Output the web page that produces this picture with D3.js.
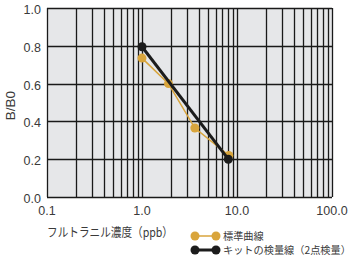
<!DOCTYPE html>
<html>
<head>
<meta charset="utf-8">
<script src="https://cdn.jsdelivr.net/npm/d3@7"></script>
<style>
body { margin: 0; background: #fff; }
text { font-family: "Noto Sans CJK JP", "Noto Sans", sans-serif; fill: #3a3a3a; }
text.num { font-family: "Liberation Sans", Arial, sans-serif; }
</style>
</head>
<body>
<div id="chart"></div>
<script>
// data
var standardX = [1.0, 1.9, 3.6, 8.2];
var standardY = [0.735, 0.60, 0.365, 0.22];
var kitX = [1.0, 8.1];
var kitY = [0.795, 0.20];
var xTicks = [0.1, 1, 10, 100];
var xTickLabels = ["0.1", "1.0", "10.0", "100.0"];
var yTicks = [0, 0.2, 0.4, 0.6, 0.8, 1.0];

var width = 353, height = 262;
var margin = {left: 47, right: 21, top: 8, bottom: 65};

var svg = d3.select("#chart").append("svg")
    .attr("width", width)
    .attr("height", height);

var x = d3.scaleLog().domain([0.1, 100]).range([margin.left, width - margin.right]);
var y = d3.scaleLinear().domain([0, 1]).range([height - margin.bottom, margin.top]);

//Plot background
svg.append("rect")
    .attr("x", x(0.1))
    .attr("y", y(1))
    .attr("width", x(100) - x(0.1))
    .attr("height", y(0) - y(1))
    .attr("fill", "#e6e7e9");

//Vertical log grid
var vlines = [];
[0.1, 1, 10].forEach(function(d) {
    for (var i = 1; i <= 9; i++) vlines.push(d * i);
});
vlines.push(100);

svg.selectAll(".vgrid")
    .data(vlines)
    .enter()
    .append("line")
    .attr("x1", d => Math.round(x(d)) + 0.5)
    .attr("x2", d => Math.round(x(d)) + 0.5)
    .attr("y1", y(1))
    .attr("y2", y(0))
    .attr("stroke", "#1a1a1a")
    .attr("stroke-width", 1.3);

svg.selectAll(".hgrid")
    .data(yTicks)
    .enter()
    .append("line")
    .attr("x1", x(0.1))
    .attr("x2", x(100))
    .attr("y1", d => Math.round(y(d)) + 0.5)
    .attr("y2", d => Math.round(y(d)) + 0.5)
    .attr("stroke", "#1a1a1a")
    .attr("stroke-width", 1.3);

//Axis labels
svg.selectAll(".ylab")
    .data(yTicks)
    .enter()
    .append("text")
    .attr("class", "num")
    .attr("x", 41)
    .attr("y", d => y(d) + 6)
    .attr("text-anchor", "end")
    .attr("font-size", 12.5)
    .text(d => d.toFixed(1));

svg.selectAll(".xlab")
    .data(xTicks)
    .enter()
    .append("text")
    .attr("class", "num")
    .attr("x", d => x(d))
    .attr("y", 215)
    .attr("text-anchor", "middle")
    .attr("font-size", 12.5)
    .text((d, i) => xTickLabels[i]);

svg.append("text")
    .attr("x", 47)
    .attr("y", 237)
    .attr("font-size", 12.5)
    .attr("textLength", 126)
    .attr("lengthAdjust", "spacingAndGlyphs")
    .text("フルトラニル濃度（ppb）");

svg.append("text")
    .attr("class", "num")
    .attr("transform", "translate(15,105.5) rotate(-90)")
    .attr("text-anchor", "middle")
    .attr("font-size", 13.5)
    .text("B/B0");

var gold = "#d9a53c", dark = "#1c1c1c";

//Series
var line = d3.line().x(d => x(d[0])).y(d => y(d[1]));
var standard = d3.zip(standardX, standardY);
var kit = d3.zip(kitX, kitY);

svg.append("path")
    .datum(standard)
    .attr("d", line)
    .attr("fill", "none")
    .attr("stroke", gold)
    .attr("stroke-width", 1.5);

svg.selectAll(".gpt")
    .data(standard)
    .enter()
    .append("circle")
    .attr("cx", d => x(d[0]))
    .attr("cy", d => y(d[1]))
    .attr("r", 4.5)
    .attr("fill", gold);

svg.append("path")
    .datum(kit)
    .attr("d", line)
    .attr("fill", "none")
    .attr("stroke", dark)
    .attr("stroke-width", 3);

svg.selectAll(".kpt")
    .data(kit)
    .enter()
    .append("circle")
    .attr("cx", d => x(d[0]))
    .attr("cy", d => y(d[1]))
    .attr("r", 4.5)
    .attr("fill", dark);

//Legend
var legend = [
    {label: "標準曲線", color: gold, w: 1.5, y: 236},
    {label: "キットの検量線（2点検量）", color: dark, w: 3, y: 250}
];
legend.forEach(function(l) {
    svg.append("line")
        .attr("x1", 195).attr("x2", 216)
        .attr("y1", l.y).attr("y2", l.y)
        .attr("stroke", l.color)
        .attr("stroke-width", l.w);
    [195, 216].forEach(function(cx) {
        svg.append("circle")
            .attr("cx", cx).attr("cy", l.y)
            .attr("r", 4.5)
            .attr("fill", l.color);
    });
    svg.append("text")
        .attr("x", 223)
        .attr("y", l.y + 4)
        .attr("font-size", 10.2)
        .text(l.label);
});
</script>
</body>
</html>
